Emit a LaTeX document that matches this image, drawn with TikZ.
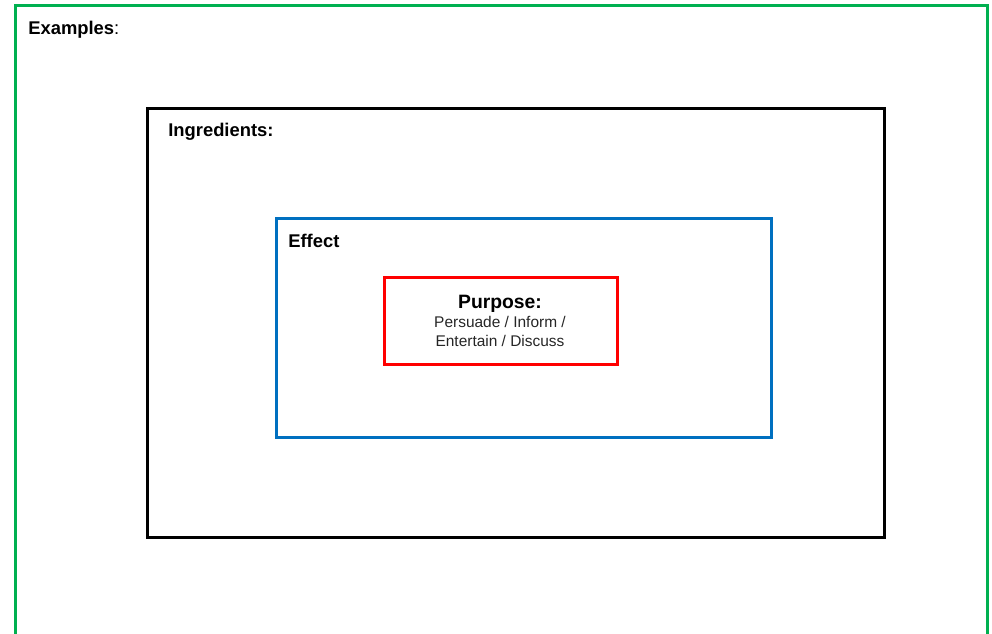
\documentclass[tikz,border=0pt]{standalone}
\usepackage{fontspec}
\setmainfont{Liberation Sans}
\usepackage{xcolor}
\usetikzlibrary{positioning}

\definecolor{boxgreen}{RGB}{0,176,80}
\definecolor{boxblue}{RGB}{0,112,192}
\definecolor{boxred}{RGB}{255,0,0}

\begin{document}
\begin{tikzpicture}[
    x=0.75pt, y=-0.75pt,
    layer/.style={rectangle, draw=black, line width=2.25pt, inner sep=0pt, outer sep=0pt},
    heading/.style={anchor=west, inner sep=0pt, font=\fontsize{13.8}{16}\selectfont\bfseries},
    body/.style={align=center, inner sep=0pt, font=\fontsize{11.6}{13.8}\selectfont, text=black!85}
]
\useasboundingbox (0,0) rectangle (992,634);

% nested boxes, outermost first
\node (examples) [layer, draw=boxgreen, minimum width=729pt, minimum height=471.75pt] at (501,320.5) {};
\node (ingredients) [layer, minimum width=552.75pt, minimum height=321pt] at (515.5,323) {};
\node (effect) [layer, draw=boxblue, minimum width=371.25pt, minimum height=163.5pt] at (523.5,328) {};
\node (purpose) [layer, draw=boxred, minimum width=174.75pt, minimum height=65.25pt] at (500.5,321.5) {};

% labels
\node (exampleslabel) [heading] at (28,30) {Examples\textmd{:}};
\node (ingredientslabel) [heading] at (168,132) {Ingredients:};
\node (effectlabel) [heading] at (288,241) {Effect};
\node (purposelabel) [heading, anchor=center, font=\fontsize{14.5}{16}\selectfont\bfseries] at (500,304) {Purpose:};
\node (purposetext) [body] at (500,331.5) {Persuade / Inform /\\Entertain / Discuss};

\end{tikzpicture}
\end{document}
